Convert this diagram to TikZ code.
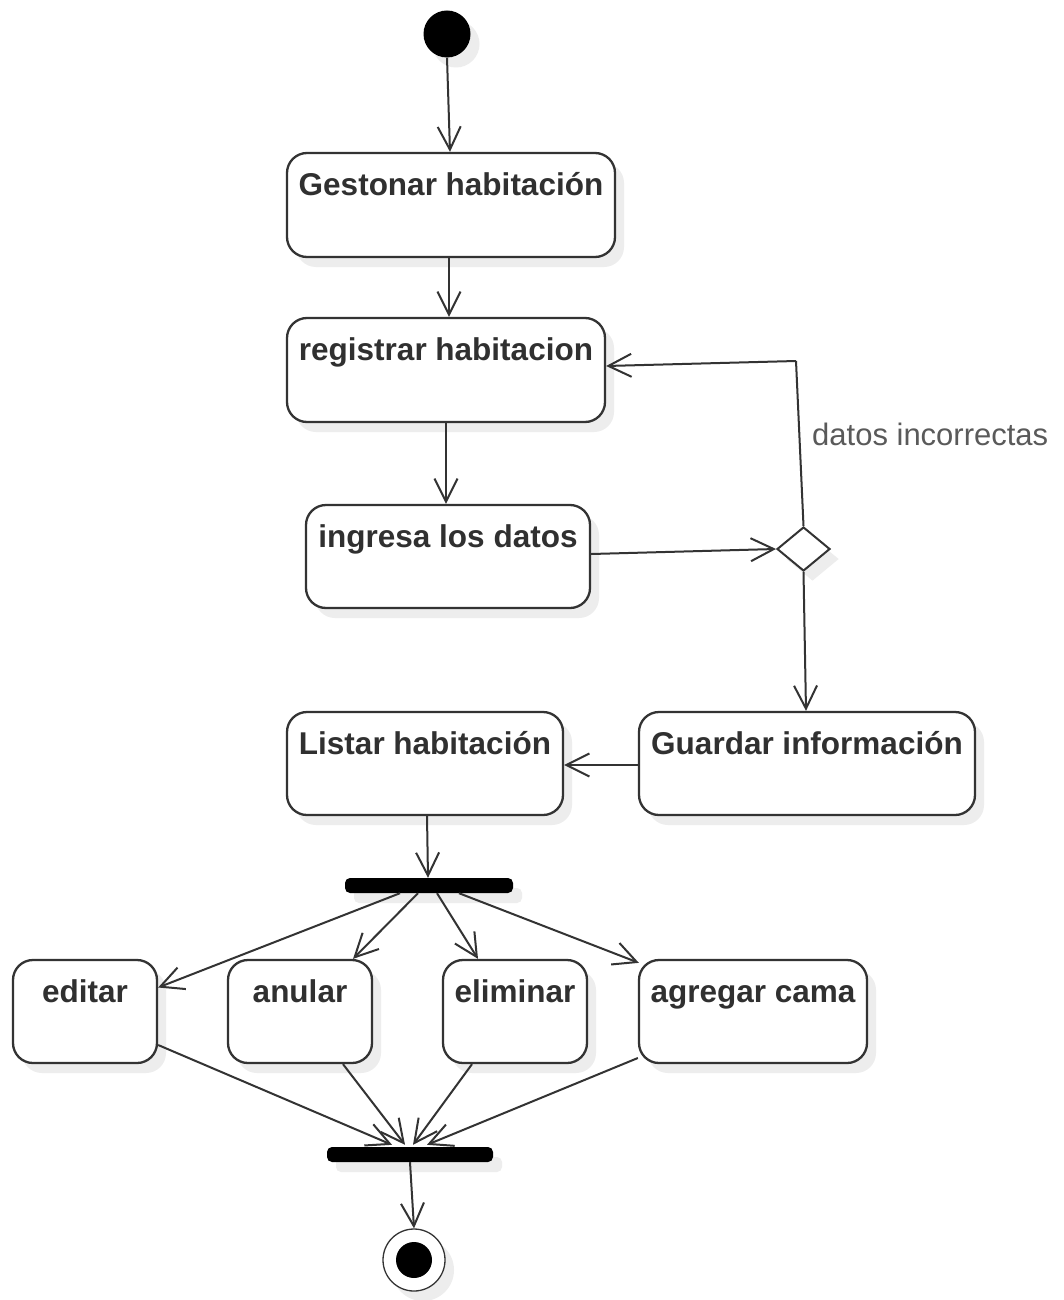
\documentclass[tikz,border=0pt]{standalone}
\usepackage{fontspec}
\setmainfont{Liberation Sans}
\usetikzlibrary{shapes.geometric,shadows,arrows.meta,calc}
\definecolor{ink}{HTML}{303030}
\definecolor{edge}{HTML}{333333}
\definecolor{note}{HTML}{5A5A5A}
\definecolor{shade}{HTML}{EDEDED}
\tikzset{
  shadowed/.style={drop shadow={shadow xshift=9pt, shadow yshift=-10pt, fill=shade, opacity=1}},
  act/.style={rectangle, rounded corners=20pt, draw=edge, line width=2.3pt, fill=white,
    inner sep=0pt, shadowed},
  actlabel/.style={anchor=base, inner sep=0pt, text=ink,
    font=\bfseries\fontsize{31.5}{36}\selectfont},
  bar/.style={rectangle, rounded corners=5pt, fill=black, inner sep=0pt,
    minimum width=168pt, minimum height=15pt, shadowed},
  flow/.style={draw=edge, line width=2pt, -{Straight Barb[length=23pt,width=23pt]}},
  plainflow/.style={draw=edge, line width=2pt},
}
\begin{document}
\begin{tikzpicture}[x=1pt, y=-1pt]
  \fill[white] (0,0) rectangle (1064,1300);
  \useasboundingbox (0,0) rectangle (1064,1300);

  % start state
  \node[circle, fill=black, minimum size=47pt, inner sep=0pt, shadowed] (s) at (447,34) {};

  % activities
  \node[act, minimum width=328pt, minimum height=104pt] (g)  at (451,205)    {};
  \node[act, minimum width=318pt, minimum height=104pt] (r)  at (446,370)    {};
  \node[act, minimum width=284pt, minimum height=103pt] (i)  at (448,556.5)  {};
  \node[act, minimum width=336pt, minimum height=103pt] (gi) at (807,763.5)  {};
  \node[act, minimum width=276pt, minimum height=103pt] (l)  at (425,763.5)  {};
  \node[act, minimum width=144pt, minimum height=103pt] (e)  at (85,1011.5)  {};
  \node[act, minimum width=144pt, minimum height=103pt] (an) at (300,1011.5) {};
  \node[act, minimum width=144pt, minimum height=103pt] (el) at (515,1011.5) {};
  \node[act, minimum width=228pt, minimum height=103pt] (ag) at (753,1011.5) {};

  \node[actlabel] (gt)  at ([yshift=-44pt]g.north)  {Gestonar habitación};
  \node[actlabel] (rt)  at ([yshift=-44pt]r.north)  {registrar habitacion};
  \node[actlabel] (it)  at ([yshift=-44pt]i.north)  {ingresa los datos};
  \node[actlabel] (git) at ([yshift=-44pt]gi.north) {Guardar información};
  \node[actlabel] (lt)  at ([yshift=-44pt]l.north)  {Listar habitación};
  \node[actlabel] (et)  at ([yshift=-44pt]e.north)  {editar};
  \node[actlabel] (ant) at ([yshift=-44pt]an.north) {anular};
  \node[actlabel] (elt) at ([yshift=-44pt]el.north) {eliminar};
  \node[actlabel] (agt) at ([yshift=-44pt]ag.north) {agregar cama};

  % decision
  \node[diamond, draw=edge, line width=2pt, fill=white, inner sep=0pt,
        minimum width=53pt, minimum height=44pt, shadowed] (d) at (803.5,549) {};
  \coordinate (bend) at (796,361);
  \node[anchor=base west, inner sep=0pt, text=note,
        font=\fontsize{31}{36}\selectfont] (lab) at (812,445) {datos incorrectas};

  % fork and join bars
  \node[bar] (f1) at (429,885.5) {};
  \node[bar, minimum width=166pt] (f2) at (410,1154.5) {};

  % final state
  \node[circle, draw=edge, line width=1.3pt, fill=white, minimum size=62pt,
        inner sep=0pt, shadowed] (fin) at (414,1260) {};
  \node[circle, fill=black, minimum size=36pt, inner sep=0pt] (finc) at (fin.center) {};

  % main flow
  \draw[flow] (s.south) -- ([xshift=-1pt]g.north);
  \draw[flow] ([xshift=-2pt]g.south) -- ([xshift=3pt]r.north);
  \draw[flow] (r.south) -- ([xshift=-2pt]i.north);
  \draw[flow] ([yshift=2.5pt]i.east) -- (d.west);
  \draw[plainflow] (d.north) -- (bend);
  \draw[flow] (bend) -- ([yshift=4pt]r.east);
  \draw[flow] (d.south) -- ([xshift=-1pt]gi.north);
  \draw[flow] ([yshift=-1.5pt]gi.west) -- ([yshift=-1.5pt]l.east);
  \draw[flow] ([xshift=2pt]l.south) -- ([xshift=-1pt]f1.north);

  % fork
  \draw[flow] ([xshift=-29pt]f1.south) -- ([yshift=24pt]e.east);
  \draw[flow] ([xshift=-11pt]f1.south) -- ([xshift=53pt]an.north);
  \draw[flow] ([xshift=8pt]f1.south) -- ([xshift=-37pt]el.north);
  \draw[flow] ([xshift=30pt]f1.south) -- ([xshift=1pt,yshift=-4pt]ag.north west);

  % join
  \draw[flow] ([yshift=-33.5pt]e.east) -- ([xshift=-18pt,yshift=2pt]f2.north);
  \draw[flow] ([xshift=43pt]an.south) -- ([xshift=-5pt,yshift=2pt]f2.north);
  \draw[flow] ([xshift=-43pt]el.south) -- ([xshift=3pt,yshift=2pt]f2.north);
  \draw[flow] ([yshift=-46.5pt]ag.west) -- ([xshift=17pt,yshift=2pt]f2.north);
  \draw[flow] (f2.south) -- (fin.north);
\end{tikzpicture}
\end{document}
